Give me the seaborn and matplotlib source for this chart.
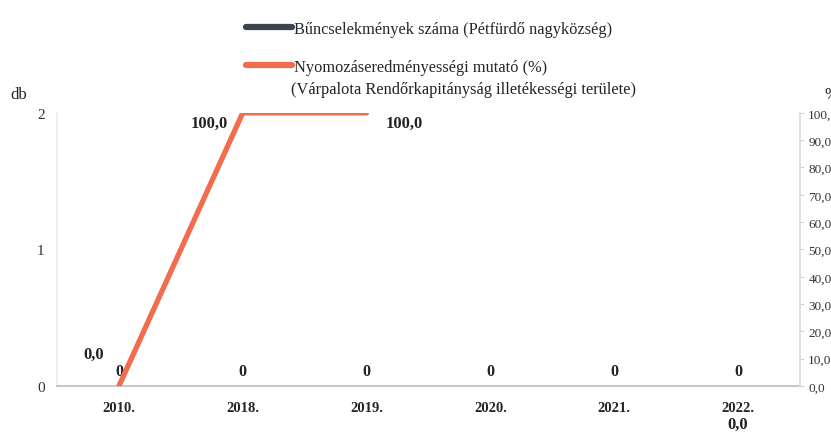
import numpy as np
import pandas as pd
import matplotlib
matplotlib.use('Agg')
import matplotlib.pyplot as plt
import seaborn as sns
from matplotlib.lines import Line2D

# ==================== DATA ====================
years = ['2010.', '2018.', '2019.', '2020.', '2021.', '2022.']
crime_counts = [0, 0, 0, 0, 0, 0]
clearance_pct = [0.0, 100.0, 100.0, np.nan, np.nan, np.nan]
pct_labels = ['0,0', '100,0', '100,0', '', '', '0,0']

series_crime = 'Bűncselekmények száma (Pétfürdő nagyközség)'
series_pct = 'Nyomozáseredményességi mutató (%)'
series_pct_note = '(Várpalota Rendőrkapitányság illetékességi területe)'

df = pd.DataFrame({'year': years, 'crimes': crime_counts, 'pct': clearance_pct})
df['pos'] = range(len(years))

# ==================== STYLE ====================
sns.set_theme(style='white')
plt.rcParams['font.family'] = ['Liberation Serif', 'DejaVu Serif']

bar_color = '#3b4350'
line_color = '#f26d4d'
axis_gray = '#c8c8c8'

fig = plt.figure(figsize=(8.31, 4.35), dpi=100)
ax = fig.add_axes([0.0686, 0.1103, 0.894, 0.628])

# bars (all zero) with value labels
sns.barplot(data=df, x='year', y='crimes', color=bar_color, width=0.3, ax=ax)
ax.bar_label(ax.containers[0], labels=[str(v) for v in crime_counts],
             padding=5, fontsize=11.5, fontweight='bold', color='#222222')
ax.set_ylim(0, 2)
ax.set_yticks([0, 1, 2])
ax.set_xlim(-0.5, len(years) - 0.5)
ax.set_xlabel('')
ax.set_ylabel('')
ax.tick_params(axis='x', length=0, pad=11, labelsize=10.5)
ax.tick_params(axis='y', length=0, pad=9, labelsize=11, labelcolor='#333333')
for lbl in ax.get_xticklabels():
    lbl.set_fontweight('bold')
for side in ['top', 'right']:
    ax.spines[side].set_visible(False)
ax.spines['left'].set_color('#ededed')
ax.spines['bottom'].set_color(axis_gray)
ax.spines['bottom'].set_linewidth(1.5)

# percent line on secondary axis
ax2 = ax.twinx()
sns.lineplot(data=df, x='pos', y='pct', color=line_color, linewidth=3.8,
             ax=ax2, legend=False)
ax2.set_ylim(0, 100)
ax2.set_xlim(-0.5, len(years) - 0.5)
ax2.set_yticks(np.arange(0, 101, 10))
ax2.set_yticklabels([f'{v:.1f}'.replace('.', ',') for v in np.arange(0, 101, 10)])
ax2.set_ylabel('')
ax2.tick_params(axis='y', length=3, width=0.6, color=axis_gray, pad=3,
                labelsize=9.5, labelcolor='#333333', right=True)
for side in ['top', 'left', 'bottom']:
    ax2.spines[side].set_visible(False)
ax2.spines['right'].set_color('#dddddd')

# percent data labels (offsets in points)
offsets = {0: (-18, 23), 1: (-24, -7), 2: (27, -7), 5: (0, -27)}
for i, txt in enumerate(pct_labels):
    if not txt:
        continue
    y = clearance_pct[i] if not np.isnan(clearance_pct[i]) else 0
    dx, dy = offsets.get(i, (0, 10))
    ax2.annotate(txt, (df['pos'][i], y), xytext=(dx, dy),
                 textcoords='offset points', ha='center', va='center',
                 fontsize=12, fontweight='bold', color='#222222')

# axis unit labels
fig.text(10 / 831, 1 - 95 / 435, 'db', fontsize=12, va='center', color='#222222')
fig.text(824 / 831, 1 - 95 / 435, '%', fontsize=12, va='center', color='#222222')

# legend
handles = [Line2D([], [], color=bar_color, linewidth=4.5),
           Line2D([], [], color=line_color, linewidth=4.5)]
fig.legend(handles, [series_crime, series_pct], loc='upper left',
           bbox_to_anchor=(238 / 831, 1 - 14 / 435), frameon=False,
           fontsize=11.8, handlelength=2.8, handletextpad=0.1,
           labelspacing=1.3, borderpad=0)
fig.text(291 / 831, 1 - 90 / 435, series_pct_note, fontsize=11.8,
         va='center', ha='left', color='#222222')

plt.savefig('out.png', dpi=100)
plt.close()
